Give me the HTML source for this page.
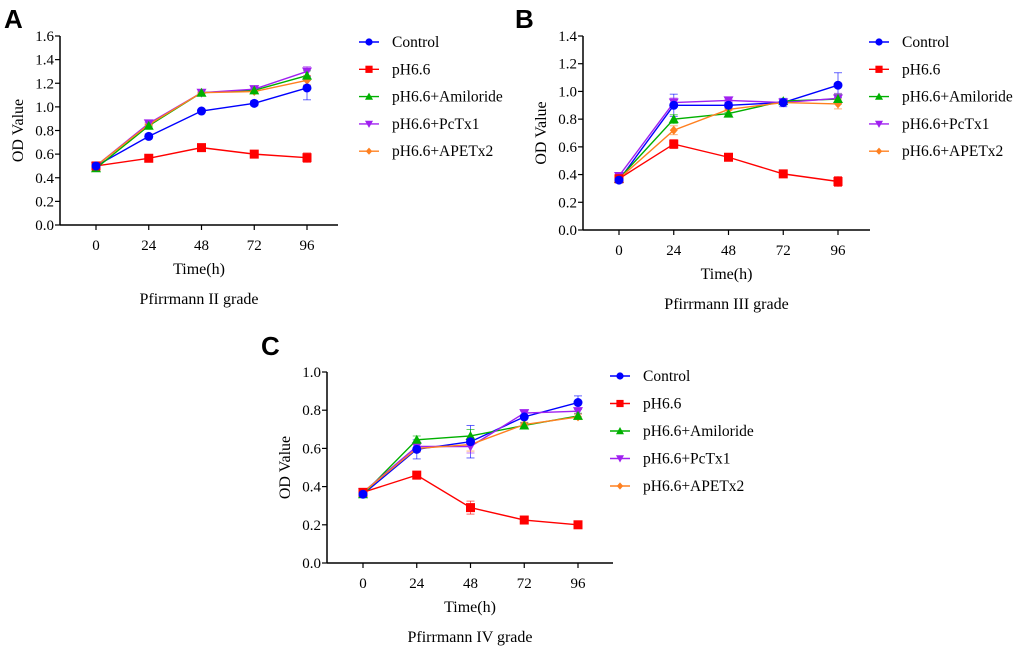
<!DOCTYPE html>
<html><head><meta charset="utf-8"><style>
body{margin:0;background:#fff}
svg{display:block;font-family:"Liberation Serif",serif}
</style></head><body>
<svg id="fig" width="1020" height="656" viewBox="0 0 1020 656"></svg>
<script>
const categories=[0,24,48,72,96];
const seriesNames=["Control","pH6.6","pH6.6+Amiloride","pH6.6+PcTx1","pH6.6+APETx2"];
const colors=["#0000ff","#ff0000","#00b000","#a020f0","#ff8020"];
const aControl=[0.50,0.75,0.965,1.03,1.16];
const aPH=[0.50,0.565,0.655,0.60,0.57];
const aAmil=[0.48,0.84,1.12,1.14,1.265];
const aPcTx=[0.50,0.86,1.12,1.15,1.30];
const aAPE=[0.50,0.85,1.12,1.13,1.225];
const aErr=[0.01,0.02,0.015,0.02,0.1];
const bControl=[0.36,0.90,0.90,0.92,1.045];
const bPH=[0.37,0.62,0.525,0.405,0.35];
const bAmil=[0.37,0.80,0.84,0.93,0.945];
const bPcTx=[0.39,0.92,0.935,0.92,0.95];
const bAPE=[0.37,0.72,0.87,0.92,0.91];
const bErr=[0.02,0.08,0.02,0.03,0.09];
const cControl=[0.36,0.595,0.635,0.765,0.84];
const cPH=[0.37,0.46,0.29,0.225,0.20];
const cAmil=[0.36,0.645,0.665,0.72,0.77];
const cPcTx=[0.37,0.61,0.61,0.785,0.795];
const cAPE=[0.37,0.60,0.62,0.725,0.765];
const cErr=[0.015,0.05,0.085,0.03,0.035];
const aTicks=[0,0.2,0.4,0.6,0.8,1.0,1.2,1.4,1.6];
const bTicks=[0,0.2,0.4,0.6,0.8,1.0,1.2,1.4];
const cTicks=[0,0.2,0.4,0.6,0.8,1.0];

const svg=document.getElementById('fig');
const NS="http://www.w3.org/2000/svg";
function mk(tag,attrs,parent){const e=document.createElementNS(NS,tag);for(const k in attrs)e.setAttribute(k,attrs[k]);(parent||svg).appendChild(e);return e;}
function txt(x,y,s,size,anchor,parent,extra){const t=mk('text',Object.assign({x:x,y:y,'font-size':size,'text-anchor':anchor||'middle',fill:'#000'},extra||{}),parent);t.textContent=s;return t;}

function marker(g,type,x,y,c,k){
  k=k||1;
  let e;
  if(type==0)e=mk('circle',{cx:x,cy:y,r:4.5*k,fill:c},g);
  else if(type==1)e=mk('rect',{x:x-4.5*k,y:y-4.5*k,width:9*k,height:9*k,fill:c},g);
  else if(type==2)e=mk('polygon',{points:`${x},${y-5*k} ${x+5*k},${y+4*k} ${x-5*k},${y+4*k}`,fill:c},g);
  else if(type==3)e=mk('polygon',{points:`${x-5*k},${y-4*k} ${x+5*k},${y-4*k} ${x},${y+5*k}`,fill:c},g);
  else e=mk('polygon',{points:`${x},${y-4.5*k} ${x+4*k},${y} ${x},${y+4.5*k} ${x-4*k},${y}`,fill:c},g);
  
  
}

function panel(o){
  const g=mk('g',{});
  
  
  const ymax=o.ticks[o.ticks.length-1];
  const sy=v=>o.y0-(v/ymax)*(o.y0-o.yTop);
  const sx=v=>o.x0+(v/96)*(o.x96-o.x0);
  const lt=txt(o.lx,o.ly,o.letter,26,'start',g,{'font-family':'Liberation Sans, sans-serif','font-weight':'bold'});
  
  const ya=mk('line',{x1:o.ax,y1:o.yTop,x2:o.ax,y2:o.y0,stroke:'#000','stroke-width':1.5},g);
  
  const xa=mk('line',{x1:o.ax,y1:o.y0,x2:o.xEnd,y2:o.y0,stroke:'#000','stroke-width':1.5},g);
  
  o.ticks.forEach(t=>{const y=sy(t);mk('line',{x1:o.ax-5,y1:y,x2:o.ax,y2:y,stroke:'#000','stroke-width':1.2},g);
    const l=txt(o.ax-6,y+5,t.toFixed(1),15,'end',g);});
  categories.forEach(c=>{const x=sx(c);mk('line',{x1:x,y1:o.y0,x2:x,y2:o.y0+5,stroke:'#000','stroke-width':1.2},g);
    const l=txt(x,o.y0+25,String(c),15,'middle',g);});
  const yt=txt(0,0,'OD Value',16,'middle',g,{transform:`translate(${o.ax-37},${(o.y0+o.yTop)/2}) rotate(-90)`});
  
  const xt=txt((o.ax+o.xEnd)/2,o.y0+49,'Time(h)',16,'middle',g);
  
  const st=txt((o.ax+o.xEnd)/2,o.y0+79,o.sub,16,'middle',g);
  
  o.series.forEach((s,i)=>{
    const sg=mk('g',{},g);
    
    
    s.forEach((v,j)=>{const e=o.err[j]*(i==0?1:0.4);const x=sx(categories[j]);
      mk('line',{x1:x,y1:sy(v-e),x2:x,y2:sy(v+e),stroke:colors[i],'stroke-width':1,opacity:0.6},sg);
      mk('line',{x1:x-4,y1:sy(v+e),x2:x+4,y2:sy(v+e),stroke:colors[i],'stroke-width':1,opacity:0.6},sg);
      mk('line',{x1:x-4,y1:sy(v-e),x2:x+4,y2:sy(v-e),stroke:colors[i],'stroke-width':1,opacity:0.6},sg);});
    const ln=mk('polyline',{points:s.map((v,j)=>sx(categories[j])+','+sy(v)).join(' '),fill:'none',stroke:colors[i],'stroke-width':1.4},sg);
    
  });
  [4,3,2,1,0].forEach(i=>{o.series[i].forEach((v,j)=>marker(g,i,sx(categories[j]),sy(v),colors[i]));});
  const lg=mk('g',{},g);
  
  seriesNames.forEach((n,i)=>{const y=o.legY+i*o.legDy;
    const eg=mk('g',{},lg);
    
    mk('line',{x1:o.legX-10,y1:y,x2:o.legX+10,y2:y,stroke:colors[i],'stroke-width':1.4},eg);
    marker(eg,i,o.legX,y,colors[i],0.8);
    txt(o.legX+23,y+5,n,15.5,'start',eg);});
}

panel({letter:'A',lx:4,ly:28,ax:60,y0:225,yTop:36,x0:96,x96:307,xEnd:338,ticks:aTicks,series:[aControl,aPH,aAmil,aPcTx,aAPE],err:aErr,sub:'Pfirrmann II grade',legX:369,legY:42,legDy:27.3});
panel({letter:'B',lx:515,ly:28,ax:583,y0:230,yTop:36,x0:619,x96:838,xEnd:870,ticks:bTicks,series:[bControl,bPH,bAmil,bPcTx,bAPE],err:bErr,sub:'Pfirrmann III grade',legX:879,legY:42,legDy:27.3});
panel({letter:'C',lx:261,ly:355,ax:327,y0:563,yTop:372,x0:363,x96:578,xEnd:613,ticks:cTicks,series:[cControl,cPH,cAmil,cPcTx,cAPE],err:cErr,sub:'Pfirrmann IV grade',legX:620,legY:376,legDy:27.5});
</script>
</body></html>
